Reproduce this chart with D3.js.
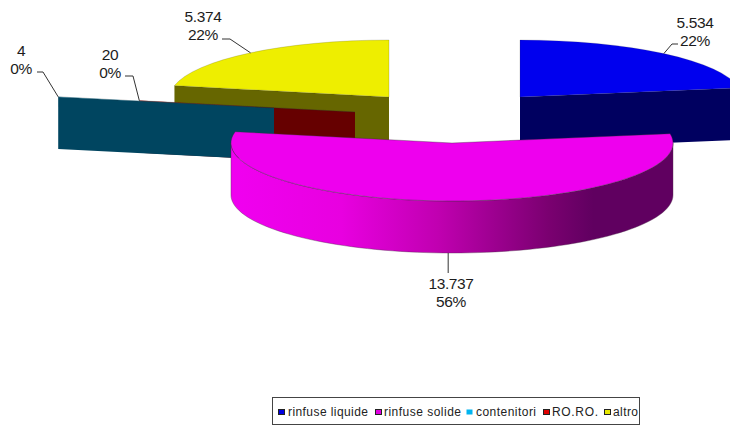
<!DOCTYPE html>
<html>
<head>
<meta charset="utf-8">
<script src="https://cdn.jsdelivr.net/npm/d3@7/dist/d3.min.js"></script>
<style>
html,body{margin:0;padding:0;background:#fff;}
svg{display:block;}
text{font-family:"Liberation Sans",Arial,sans-serif;}
</style>
</head>
<body>
<svg id="chart" width="730" height="426"></svg>
<script>
// --- data ---
const categories = ["rinfuse liquide", "rinfuse solide", "contenitori", "RO.RO.", "altro"];
const values = [5534, 13737, 4, 20, 5374];
const valueLabels = ["5.534", "13.737", "4", "20", "5.374"];
const percentLabels = ["22%", "56%", "0%", "0%", "22%"];

// --- style and layout ---
const topColors = ["#0000ee", "#ee00ee", "#00b4f0", "#c00000", "#eeee00"];
const wallColors = ["#000060", "#660066", "#004560", "#660000", "#666600"];
const legendColors = ["#0000e0", "#e000e0", "#00b4f0", "#e00000", "#e8e800"];
const centers = [[520, 97], [452, 143], [274, 108], [355, 112], [389, 97]];
const radiiX = [222, 221, 220, 220, 219];
const radiiY = [57, 58, 57, 57, 57];
const labelPos = [[695, 22], [451, 283], [21, 50], [110, 54], [203, 16]];
const leaderElbow = [[[672, 44], [678, 44]], [], [[43, 72], [37, 72]], [[133, 76], [125, 76]], [[230, 39], [222, 39]]];
const leaderEnd = [null, [448, 273], null, null, null];
const drawOrder = [4, 3, 2, 0, 1];
const legendSwatchX = [278, 375, 466, 543, 604];
const legendTextX = [288, 384, 476, 552, 613];
const legendTextW = [80, 77, 60, 46, 25];
const depth = 52;

const svg = d3.select("#chart");
const defs = svg.append("defs");
const grad = defs.append("linearGradient").attr("id", "wallMagenta")
  .attr("gradientUnits", "userSpaceOnUse").attr("x1", 231).attr("x2", 673).attr("y1", 0).attr("y2", 0);
[[0, "#f000f0"], [0.25, "#e800e0"], [0.47, "#c000b0"], [0.72, "#7a0070"], [0.82, "#600060"], [1, "#600060"]]
  .forEach(s => grad.append("stop").attr("offset", s[0]).attr("stop-color", s[1]));

const pie = d3.pie().sort(null).startAngle(0).endAngle(2 * Math.PI);
const slices = pie(values);

// angle measured clockwise from 12 o'clock, on the ellipse
const px = (i, a) => centers[i][0] + radiiX[i] * Math.sin(a);
const py = (i, a) => centers[i][1] - radiiY[i] * Math.cos(a);
const line = d3.line();

function radialWall(i, a) {
  const [cx, cy] = centers[i];
  return line([[cx, cy], [px(i, a), py(i, a)], [px(i, a), py(i, a) + depth], [cx, cy + depth]]) + "Z";
}
function outerWall(i, a0, a1) {
  const n = 80;
  const steps = d3.range(n + 1).map(k => a0 + (a1 - a0) * k / n);
  const upper = steps.map(a => [px(i, a), py(i, a)]);
  const lower = steps.slice().reverse().map(a => [px(i, a), py(i, a) + depth]);
  return line(upper.concat(lower)) + "Z";
}

const H = Math.PI / 2, S = 3 * Math.PI / 2;
drawOrder.forEach(i => {
  const s = slices[i];
  const g = svg.append("g");
  // radial faces looking at the viewer
  if (Math.sin(s.endAngle) > 0 && Math.cos(s.endAngle) > 0) {
    g.append("path").attr("d", radialWall(i, s.endAngle)).attr("fill", wallColors[i]);
  }
  if (Math.sin(s.startAngle) < 0 && Math.cos(s.startAngle) > 0) {
    g.append("path").attr("d", radialWall(i, s.startAngle)).attr("fill", wallColors[i]);
  }
  // curved outer wall
  const a0 = Math.max(s.startAngle, H), a1 = Math.min(s.endAngle, S);
  if (a1 > a0) {
    g.append("path").attr("d", outerWall(i, a0, a1))
      .attr("fill", i === 1 ? "url(#wallMagenta)" : wallColors[i])
      .attr("stroke", "#50304f").attr("stroke-width", 0.4);
  }
  // top face
  const arc = d3.arc().innerRadius(0).outerRadius(radiiX[i]);
  g.append("path")
    .attr("transform", `translate(${centers[i][0]},${centers[i][1]}) scale(1,${radiiY[i] / radiiX[i]})`)
    .attr("d", arc(s))
    .attr("fill", topColors[i])
    .attr("stroke", "#333")
    .attr("stroke-opacity", i === 1 ? 0.6 : 0.3)
    .attr("stroke-width", 0.6)
    .attr("vector-effect", "non-scaling-stroke");
});

// leader lines and labels
slices.forEach((s, i) => {
  const m = (s.startAngle + s.endAngle) / 2;
  const inFront = Math.cos(m) < 0;
  const start = [px(i, m), py(i, m) + (inFront ? depth : 0)];
  const pts = leaderEnd[i] ? [[start[0], start[1]], [start[0], leaderEnd[i][1]]] : [start].concat(leaderElbow[i]);
  svg.append("path").attr("d", line(pts)).attr("fill", "none").attr("stroke", "#333").attr("stroke-width", 1);
  const t = svg.append("text").attr("text-anchor", "middle").attr("font-size", 15.5)
    .attr("letter-spacing", -0.4).attr("fill", "#1c1c1c");
  t.append("tspan").attr("x", labelPos[i][0]).attr("y", labelPos[i][1] + 6).text(valueLabels[i]);
  t.append("tspan").attr("x", labelPos[i][0]).attr("y", labelPos[i][1] + 24).text(percentLabels[i]);
});

// legend
svg.append("rect").attr("x", 272.5).attr("y", 397.5).attr("width", 367).attr("height", 27)
  .attr("fill", "#fff").attr("stroke", "#444").attr("stroke-width", 1);
categories.forEach((c, i) => {
  svg.append("rect").attr("x", legendSwatchX[i] + 0.5).attr("y", 409.5).attr("width", 6).attr("height", 5)
    .attr("fill", legendColors[i]).attr("stroke", i === 2 ? "none" : "#222").attr("stroke-width", 1);
  svg.append("text").attr("x", legendTextX[i]).attr("y", 416).attr("font-size", 12).attr("fill", "#222")
    .attr("textLength", legendTextW[i]).attr("lengthAdjust", "spacing").text(c);
});
</script>
</body>
</html>
